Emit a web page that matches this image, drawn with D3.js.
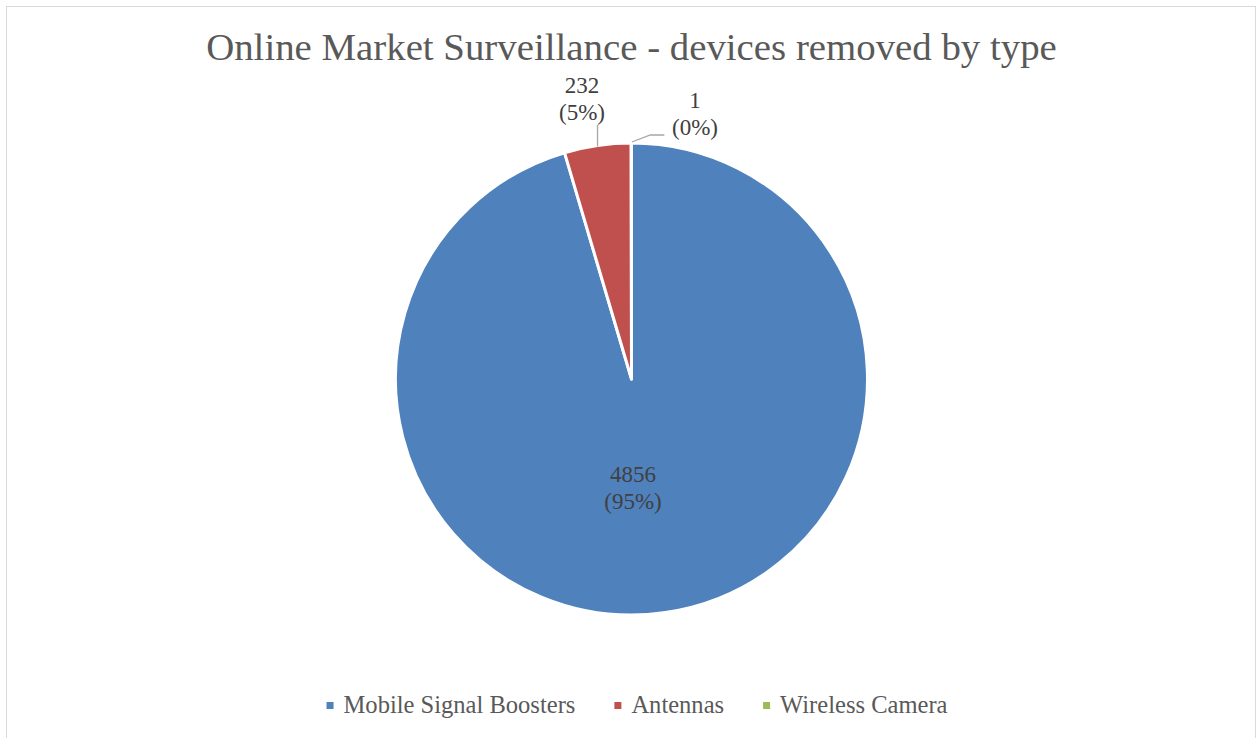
<!DOCTYPE html>
<html>
<head>
<meta charset="utf-8">
<script src="https://cdn.jsdelivr.net/npm/d3@7"></script>
<style>
  html, body { margin: 0; padding: 0; background: #ffffff; }
  svg { display: block; }
</style>
</head>
<body>
<svg id="chart" width="1259" height="738"></svg>
<script>
// Devices removed during online market surveillance, by type
const categories = ["Mobile Signal Boosters", "Antennas", "Wireless Camera"];
const values = [4856, 232, 1];
const colors = ["#4F81BD", "#C0504D", "#9BBB59"];
const titleText = "Online Market Surveillance - devices removed by type";

const W = 1259, H = 738;
const FONT = "'Liberation Serif', 'DejaVu Serif', serif";
const TEXT = "#595959";

const svg = d3.select("#chart");

// chart area frame
svg.append("rect")
  .attr("x", 6.5).attr("y", 6.5)
  .attr("width", 1249).attr("height", 740)
  .attr("fill", "#ffffff")
  .attr("stroke", "#d9d9d9").attr("stroke-width", 1);

// scale a text node's font size so it spans the given width
function fitWidth(sel, width) {
  const node = sel.node();
  const fs = parseFloat(sel.attr("font-size"));
  const w = node.getComputedTextLength();
  const nfs = fs * width / w;
  sel.attr("font-size", nfs.toFixed(2));
  return nfs;
}

// title
const title = svg.append("text")
  .attr("x", 631.5).attr("y", 60)
  .attr("text-anchor", "middle")
  .attr("font-family", FONT).attr("font-size", 30)
  .attr("fill", TEXT)
  .text(titleText);
fitWidth(title, 851);

// pie
const cx = 631.5, cy = 379, R = 236;
const data = categories.map((c, i) => ({ name: c, value: values[i], color: colors[i] }));
const total = d3.sum(values);

const pie = d3.pie().sort(null).value(d => d.value).startAngle(0).endAngle(2 * Math.PI);
const arcs = pie(data);
const arc = d3.arc().innerRadius(0).outerRadius(R);

const g = svg.append("g").attr("transform", `translate(${cx},${cy})`);
g.selectAll("path.slice")
  .data(arcs)
  .join("path")
  .attr("class", "slice")
  .attr("d", arc)
  .attr("fill", d => d.data.color)
  .attr("stroke", "#ffffff")
  .attr("stroke-width", 3)
  .attr("stroke-linejoin", "round");

// data labels
const pct = v => Math.round(v / total * 100) + "%";
function polar(angle, r) {
  return [r * Math.sin(angle), -r * Math.cos(angle)];
}

const labelFontSize = 23;
const lineStep = 27;

// label placements: inside for the large slice, outside with leaders for small ones
const labelPos = [
  { dx: 1.5, dy: 103 },
  { dx: -49.5, dy: -286 },
  { dx: 63.5, dy: -271 }
];

arcs.forEach((a, i) => {
  const p = labelPos[i];
  const t = g.append("text")
    .attr("text-anchor", "middle")
    .attr("font-family", FONT)
    .attr("font-size", labelFontSize)
    .attr("fill", "#404040");
  t.append("tspan").attr("x", p.dx).attr("y", p.dy).text(a.data.value);
  t.append("tspan").attr("x", p.dx).attr("y", p.dy + lineStep).text("(" + pct(a.data.value) + ")");
});

// leader lines for the outside labels
const lineGen = d3.line();
const mid1 = (arcs[1].startAngle + arcs[1].endAngle) / 2;
const e1 = polar(mid1, R);
g.append("path")
  .attr("d", lineGen([[e1[0], e1[1] + 1], [e1[0], -254]]))
  .attr("fill", "none").attr("stroke", "#a6a6a6").attr("stroke-width", 1.3);

const mid2 = (arcs[2].startAngle + arcs[2].endAngle) / 2;
const e2 = polar(mid2, R);
g.append("path")
  .attr("d", lineGen([[e2[0] + 0.5, e2[1] - 1], [e2[0] + 19, e2[1] - 8], [e2[0] + 33, e2[1] - 8]]))
  .attr("fill", "none").attr("stroke", "#a6a6a6").attr("stroke-width", 1.3);

// legend
const legendY = 706;
const legend = svg.append("g");
const items = legend.selectAll("g.item")
  .data(data)
  .join("g")
  .attr("class", "item");
items.append("rect")
  .attr("width", 7).attr("height", 7)
  .attr("y", legendY - 4)
  .attr("fill", d => d.color);
const labels = items.append("text")
  .attr("x", 17).attr("y", legendY + 7)
  .attr("font-family", FONT).attr("font-size", 20)
  .attr("fill", TEXT)
  .text(d => d.name);
// size legend text to the intended span of the first entry
const lfs = fitWidth(labels.filter((d, i) => i === 0), 232);
labels.attr("font-size", lfs.toFixed(2));

const widths = [];
items.each(function () {
  const tw = d3.select(this).select("text").node().getComputedTextLength();
  widths.push(17 + tw);
});
const gap = 39;
const totalW = d3.sum(widths) + gap * (widths.length - 1);
let x0 = 637 - totalW / 2;
items.attr("transform", (d, i) => {
  const x = x0;
  x0 += widths[i] + gap;
  return `translate(${x},0)`;
});
</script>
</body>
</html>
